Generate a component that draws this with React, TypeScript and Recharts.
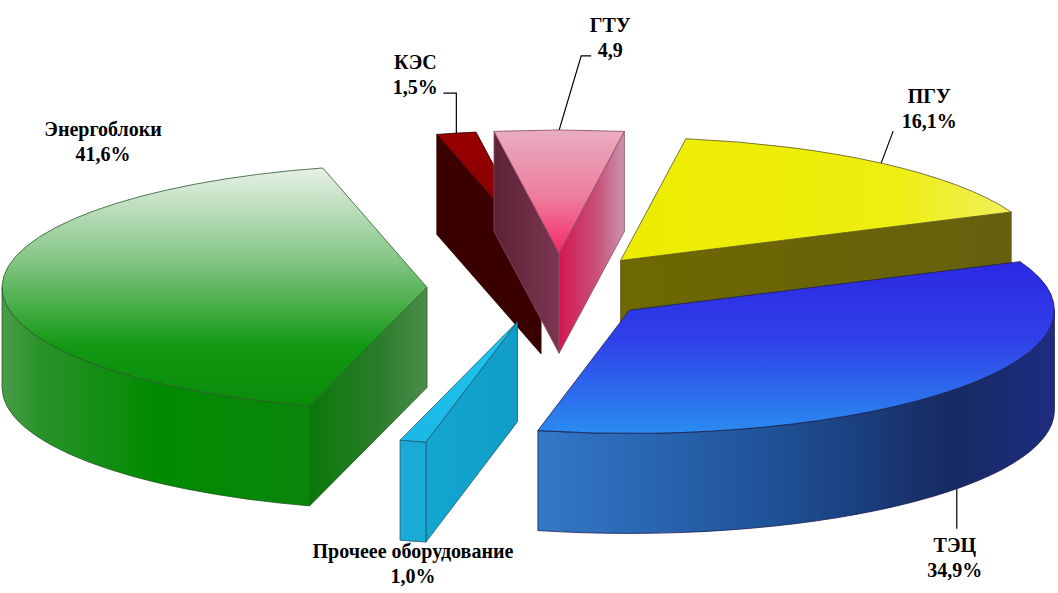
import React from 'react';
import { PieChart, Pie } from 'recharts';

// данные (доли, %)
const names = ['ГТУ', 'ПГУ', 'ТЭЦ', 'Прочеее оборудование', 'Энергоблоки', 'КЭС'];
const shares = [4.9, 16.1, 34.9, 1.0, 41.6, 1.5];
const valueLabels = ['4,9', '16,1%', '34,9%', '1,0%', '41,6%', '1,5%'];

const data = names.map((name, i) => ({ name, value: shares[i], text: valueLabels[i] }));

// геометрия "3D"
const W = 1058;
const H = 593;
const CX = 547;
const CY = 288;
const R = 425;
const TILT = 0.29;
const DEPTH = 100;
const EXPLODE = 120;
const START = 98.8;

type Stops = [number, string][];
type SliceStyle = { top: Stops; topDir: 'v' | 'h'; start: Stops; end: Stops; outer: Stops; line: string; nudge: number };

const styles: Record<string, SliceStyle> = {
  'ГТУ': {
    top: [[0, '#e9adc2'], [0.55, '#ee7c9c'], [1, '#f5296a']], topDir: 'v',
    start: [[0, '#5c2235'], [1, '#7c3652']],
    end: [[0, '#d21650'], [0.6, '#c9537c'], [1, '#c994ac']],
    outer: [[0, '#c04070'], [1, '#c04070']], line: '#8a4a60', nudge: 12,
  },
  'ПГУ': {
    top: [[0, '#ecec00'], [0.7, '#eeee10'], [1, '#f0f05a']], topDir: 'h',
    start: [[0, '#6b6500'], [1, '#6b6500']],
    end: [[0, '#6e6800'], [1, '#65600e']],
    outer: [[0, '#6e6800'], [1, '#6e6800']], line: '#5a5620', nudge: 0,
  },
  'ТЭЦ': {
    top: [[0, '#2c29e4'], [0.45, '#3040e8'], [1, '#2a8cf0']], topDir: 'v',
    start: [[0, '#1e3a90'], [1, '#1e3a90']],
    end: [[0, '#1e3a90'], [1, '#1e3a90']],
    outer: [[0, '#3378c8'], [0.45, '#1f5298'], [0.8, '#172a62'], [1, '#1e2c80']], line: '#1a1e50', nudge: -10,
  },
  'Прочеее оборудование': {
    top: [[0, '#22c4f0'], [1, '#1ab8e6']], topDir: 'v',
    start: [[0, '#12a6d0'], [1, '#109ec8']],
    end: [[0, '#12a6d0'], [1, '#12a6d0']],
    outer: [[0, '#1aaad6'], [1, '#1aaad6']], line: '#1a5a70', nudge: 0,
  },
  'Энергоблоки': {
    top: [[0, '#e8f0e8'], [0.4, '#80c480'], [0.75, '#129812'], [1, '#0a8c0a']], topDir: 'v',
    start: [[0, '#0a780a'], [0.6, '#2a7e2a'], [1, '#4c8c4c']],
    end: [[0, '#0a780a'], [1, '#0a780a']],
    outer: [[0, '#4a9c4a'], [0.12, '#2a922a'], [0.5, '#008a00'], [1, '#0a860a']], line: '#2a5a2a', nudge: 0,
  },
  'КЭС': {
    top: [[0, '#990000'], [1, '#7a0000']], topDir: 'v',
    start: [[0, '#3a0000'], [1, '#3a0000']],
    end: [[0, '#3a0000'], [1, '#3a0000']],
    outer: [[0, '#4a0000'], [1, '#4a0000']], line: '#2a0000', nudge: 18,
  },
};

// подписи: точка привязки на ободе, выноска и центр текста (смещения от точки привязки)
const labelLayout: Record<string, { anchor: 'top' | 'bottom'; leader: [number, number][]; text: [number, number] }> = {
  'ГТУ': { anchor: 'top', leader: [[0, 0], [22, -74], [32, -74]], text: [51, -105] },
  'КЭС': { anchor: 'top', leader: [[0, 0], [0, -40], [-13, -40]], text: [-41, -71] },
  'ПГУ': { anchor: 'top', leader: [[0, 0], [12, -32]], text: [48, -67] },
  'ТЭЦ': { anchor: 'bottom', leader: [[0, 0], [0, 40]], text: [-2, 56] },
  'Энергоблоки': { anchor: 'top', leader: [], text: [101, -156] },
  'Прочеее оборудование': { anchor: 'bottom', leader: [], text: [0, 10] },
};

const drawOrder = ['КЭС', 'ГТУ', 'ПГУ', 'Энергоблоки', 'ТЭЦ', 'Прочеее оборудование'];

const rad = (a: number) => (a * Math.PI) / 180;

const geom = (p: any) => {
  const name = p.payload?.name ?? p.name;
  const hi = Math.max(p.startAngle, p.endAngle);
  const lo = Math.min(p.startAngle, p.endAngle);
  const mid = (hi + lo) / 2;
  const ox = EXPLODE * Math.cos(rad(mid)) + (styles[name]?.nudge ?? 0);
  const oy = -EXPLODE * TILT * Math.sin(rad(mid));
  const r = p.outerRadius;
  const at = (a: number, z = 0): [number, number] => [
    p.cx + ox + r * Math.cos(rad(a)),
    p.cy + oy - r * TILT * Math.sin(rad(a)) + z,
  ];
  return { hi, lo, mid, r, at, apex: [p.cx + ox, p.cy + oy] as [number, number] };
};

const Grad = ({ id, stops, dir }: { id: string; stops: Stops; dir: 'v' | 'h' }) => (
  <linearGradient id={id} x1="0" y1="0" x2={dir === 'h' ? 1 : 0} y2={dir === 'v' ? 1 : 0}>
    {stops.map(([o, c], i) => (
      <stop key={i} offset={o} stopColor={c} />
    ))}
  </linearGradient>
);

const Slice3D = (props: any) => {
  const name = props.payload?.name ?? props.name;
  const st = styles[name];
  const { hi, lo, r, at, apex } = geom(props);
  const ry = r * TILT;
  const pt = (q: [number, number]) => `${q[0]},${q[1]}`;
  const key = 's' + names.indexOf(name);
  const faces: React.ReactNode[] = [];

  const radial = (a: number, fillId: string) => {
    const q = at(a);
    const d = `M${pt(apex)} L${pt(q)} L${q[0]},${q[1] + DEPTH} L${apex[0]},${apex[1] + DEPTH} Z`;
    return <path key={fillId} d={d} fill={`url(#${fillId})`} stroke={st.line} strokeWidth={0.8} strokeLinejoin="round" />;
  };

  // боковые грани, видимые зрителю
  if (Math.cos(rad(hi)) < 0) faces.push(radial(hi, key + 'st'));
  if (Math.cos(rad(lo)) > 0) faces.push(radial(lo, key + 'en'));

  for (let k = -2; k <= 1; k++) {
    const a = Math.max(lo, -180 + 360 * k);
    const b = Math.min(hi, 360 * k);
    if (b - a > 0.01) {
      const p1 = at(b);
      const p2 = at(a);
      const large = b - a > 180 ? 1 : 0;
      const d = `M${pt(p1)} A${r},${ry} 0 ${large} 1 ${pt(p2)} L${p2[0]},${p2[1] + DEPTH} A${r},${ry} 0 ${large} 0 ${p1[0]},${p1[1] + DEPTH} Z`;
      faces.push(<path key={'o' + k} d={d} fill={`url(#${key}ou)`} stroke={st.line} strokeWidth={0.8} />);
    }
  }

  const s = at(hi);
  const e = at(lo);
  const topD = `M${pt(apex)} L${pt(s)} A${r},${ry} 0 ${hi - lo > 180 ? 1 : 0} 1 ${pt(e)} Z`;

  return (
    <g>
      <defs>
        <Grad id={key + 'tp'} stops={st.top} dir={st.topDir} />
        <Grad id={key + 'st'} stops={st.start} dir="h" />
        <Grad id={key + 'en'} stops={st.end} dir="h" />
        <Grad id={key + 'ou'} stops={st.outer} dir="h" />
      </defs>
      {faces}
      <path d={topD} fill={`url(#${key}tp)`} stroke={st.line} strokeWidth={0.8} strokeLinejoin="round" />
    </g>
  );
};

const fontStyle: React.CSSProperties = {
  fontFamily: "'Liberation Serif', 'Times New Roman', serif",
  fontWeight: 700,
  fontSize: 20,
  fill: '#000',
};

const SliceLabel = (props: any) => {
  const name = props.payload?.name ?? props.name;
  const lay = labelLayout[name];
  const { mid, at } = geom(props);
  const anchor = lay.anchor === 'top' ? at(mid) : at(mid, DEPTH);
  const pts = lay.leader.map(([dx, dy]) => `${anchor[0] + dx},${anchor[1] + dy}`).join(' ');
  const tx = anchor[0] + lay.text[0];
  const ty = anchor[1] + lay.text[1];
  return (
    <g>
      {lay.leader.length > 0 && <polyline points={pts} fill="none" stroke="#000" strokeWidth={1.2} />}
      <text x={tx} y={ty} textAnchor="middle" dominantBaseline="central" style={fontStyle}>{name}</text>
      <text x={tx} y={ty + 25} textAnchor="middle" dominantBaseline="central" style={fontStyle}>{props.payload?.text}</text>
    </g>
  );
};

export default function App() {
  return (
    <div style={{ position: 'absolute', left: 0, top: 0, width: W, height: H, background: '#fff' }}>
      <PieChart width={W} height={H} margin={{ top: 0, right: 0, bottom: 0, left: 0 }}>
        {drawOrder.map((n) => (
          <Pie
            key={n}
            data={data}
            dataKey="value"
            nameKey="name"
            cx={CX}
            cy={CY}
            outerRadius={R}
            startAngle={START}
            endAngle={START - 360}
            fill="none"
            stroke="none"
            isAnimationActive={false}
            labelLine={false}
            label={(p: any) => ((p.payload?.name ?? p.name) === n ? <Slice3D {...p} /> : null)}
          />
        ))}
        <Pie
          data={data}
          dataKey="value"
          nameKey="name"
          cx={CX}
          cy={CY}
          outerRadius={R}
          startAngle={START}
          endAngle={START - 360}
          fill="none"
          stroke="none"
          isAnimationActive={false}
          labelLine={false}
          label={(p: any) => <SliceLabel {...p} />}
        />
      </PieChart>
    </div>
  );
}
